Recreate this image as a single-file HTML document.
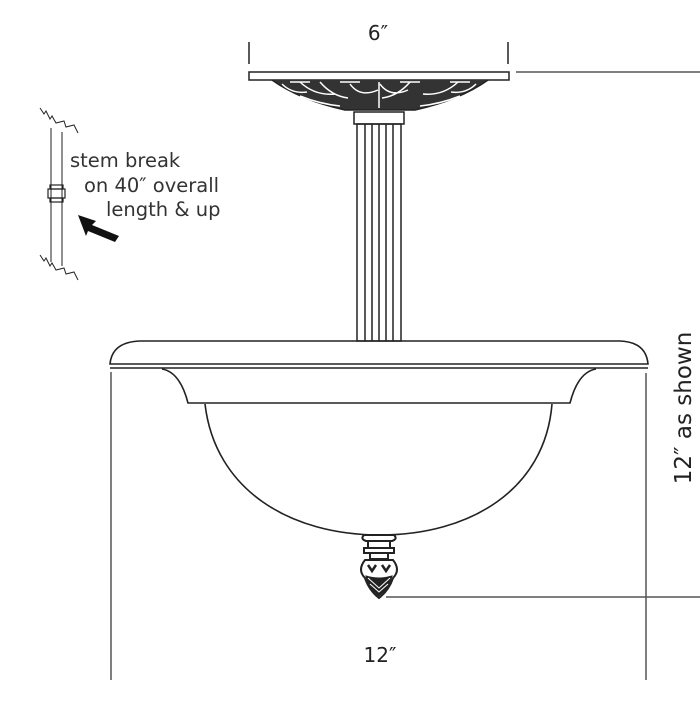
<!DOCTYPE html>
<html><head><style>html,body{margin:0;padding:0;background:#fff}</style></head><body>
<svg width="700" height="700" viewBox="0 0 700 700" xmlns="http://www.w3.org/2000/svg" font-family="Verdana, 'DejaVu Sans', sans-serif" fill="none" stroke="#222">
<!-- dimension 6 -->
<text x="378" y="40" font-size="20" fill="#222" stroke="none" text-anchor="middle">6″</text>
<line x1="249" y1="42" x2="249" y2="64" stroke-width="1.5"/>
<line x1="508" y1="42" x2="508" y2="64" stroke-width="1.5"/>
<line x1="516" y1="72" x2="700" y2="72" stroke="#555" stroke-width="1.5"/>
<!-- canopy -->
<rect x="249" y="72" width="260" height="8" stroke-width="1.5"/>
<path d="M272 80 Q300 100 345 110 L415 110 Q460 100 488 80" fill="#333" stroke-width="1.5"/>
<g stroke="#fff" stroke-width="1.5">
<path d="M282 84 q10 10 25 8 M300 82 q15 14 35 12 M320 82 q12 14 28 16 M350 84 q10 14 28 6 M380 84 q10 14 28 6 M410 82 q-12 14 -28 16 M458 82 q-15 14 -35 12 M476 84 q-10 10 -25 8"/>
<path d="M290 82 h20 M340 82 h20 M400 82 h20 M450 82 h20 M379 82 v26 M300 96 q20 8 40 10 M460 96 q-20 8 -40 10"/>
</g>
<rect x="354" y="112" width="50" height="12" stroke-width="1.5"/>
<!-- stem -->
<rect x="357" y="124" width="44" height="217" stroke-width="1.5"/>
<path d="M365 124V341 M372 124V341 M379 124V341 M386 124V341 M393 124V341" stroke-width="1.5"/>
<!-- rim -->
<path d="M110 364 Q112 342 140 341 L620 341 Q646 342 648 364 Z" stroke-width="1.6"/>
<line x1="110" y1="368" x2="648" y2="368" stroke-width="1.6"/>
<path d="M162 369 Q180 372 188 403 L570 403 Q578 372 596 369" stroke-width="1.6"/>
<!-- bowl -->
<path d="M205 404 C215 490 290 535 380 535 C470 535 545 490 552 404" stroke-width="1.6"/>
<!-- finial -->
<path d="M364 535 h30 q4 4 -2 6 h-26 q-6 -2 -2 -6z" stroke-width="2"/>
<rect x="368" y="541" width="22" height="7" stroke-width="2"/>
<rect x="364" y="548" width="30" height="5" stroke-width="2"/>
<path d="M370 553 h18 v6 h-18z" stroke-width="2"/>
<path d="M365 560 h28 q8 10 0 18 q-4 12 -14 20 q-10 -8 -14 -20 q-8 -8 0 -18z" stroke-width="2"/>
<path d="M366 576 q13 4 26 0 q-3 12 -13 20 q-10 -8 -13 -20z" fill="#222"/>
<path d="M370 584 l9 8 l9 -8 M368 578 l11 10 l11 -10" stroke="#fff" stroke-width="1"/>
<path d="M368 565 l4 6 l4 -6 M382 565 l4 6 l4 -6" stroke-width="2.5"/>
<line x1="386" y1="597" x2="700" y2="597" stroke="#555" stroke-width="1.5"/>
<!-- dim lines -->
<line x1="111" y1="372" x2="111" y2="680" stroke="#555" stroke-width="1.5"/>
<line x1="646" y1="373" x2="646" y2="680" stroke="#555" stroke-width="1.5"/>
<text x="380" y="662" font-size="20" fill="#222" stroke="none" text-anchor="middle">12″</text>
<text transform="translate(691,408) rotate(-90)" font-size="23" fill="#222" stroke="none" text-anchor="middle">12″ as shown</text>
<!-- stem break detail -->
<path d="M40 108 l4 6 l2 -3 l4 8 l2 -3 l4 7 l8 -2 l2 6 l8 -2 l4 8" stroke-width="1"/>
<path d="M40 255 l4 6 l2 -3 l4 8 l2 -3 l4 7 l8 -2 l2 6 l8 -2 l4 8" stroke-width="1"/>
<line x1="51" y1="128" x2="51" y2="262" stroke-width="1"/>
<line x1="62" y1="132" x2="62" y2="266" stroke-width="1"/>
<rect x="50" y="185" width="13" height="4" stroke-width="1.2"/>
<rect x="48" y="189" width="17" height="9" stroke-width="1.2"/>
<rect x="50" y="198" width="13" height="4" stroke-width="1.2"/>
<text x="70" y="167" font-size="19.5" fill="#333" stroke="none">stem break</text>
<text x="84" y="192" font-size="19.5" fill="#333" stroke="none">on 40″ overall</text>
<text x="106" y="216" font-size="19.5" fill="#333" stroke="none">length &amp; up</text>
<path d="M78 215 L96 221 L92 225 L119 236 L115 242 L88 231 L86 236 Z" fill="#111" stroke="none"/>
</svg>
</body></html>
